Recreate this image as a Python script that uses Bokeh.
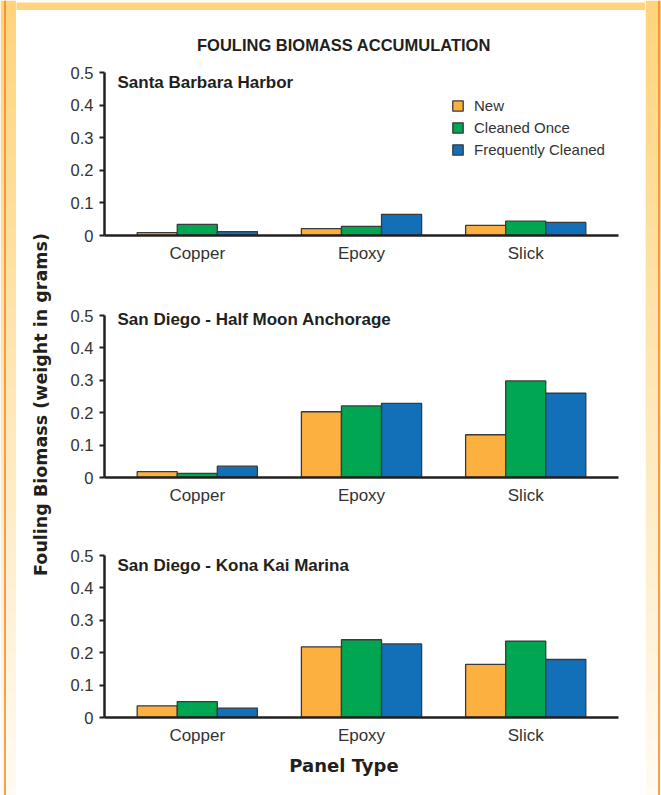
import math
import numpy as np
from bokeh.plotting import figure
from bokeh.models import (FactorRange, Range1d, FixedTicker, Label, ColumnDataSource)
from bokeh.layouts import column, row
from bokeh.transform import dodge
from bokeh.embed import file_html
from bokeh.resources import INLINE

# ---------------- data ----------------
TITLE = "FOULING BIOMASS ACCUMULATION"
Y_LABEL = "Fouling Biomass (weight in grams)"
X_LABEL = "Panel Type"
CATEGORIES = ["Copper", "Epoxy", "Slick"]
SERIES = ["New", "Cleaned Once", "Frequently Cleaned"]
SITES = ["Santa Barbara Harbor", "San Diego - Half Moon Anchorage", "San Diego - Kona Kai Marina"]
Y_TICKS = [0, 0.1, 0.2, 0.3, 0.4, 0.5]
Y_TICK_LABELS = ["0", "0.1", "0.2", "0.3", "0.4", "0.5"]

santa_barbara_new = [0.009, 0.021, 0.031]
santa_barbara_once = [0.034, 0.028, 0.044]
santa_barbara_freq = [0.012, 0.065, 0.040]

half_moon_new = [0.018, 0.203, 0.132]
half_moon_once = [0.013, 0.221, 0.298]
half_moon_freq = [0.035, 0.229, 0.260]

kona_kai_new = [0.036, 0.218, 0.164]
kona_kai_once = [0.049, 0.240, 0.236]
kona_kai_freq = [0.029, 0.227, 0.179]

# ---------------- styles ----------------
COLORS = ["#FBB040", "#00A651", "#1170B8"]
STRIP_TOP = (255, 212, 124)
STRIP_BOTTOM = (255, 251, 243)
EDGE = "#F58220"
DARK = "#231F20"
GRAY = "#333333"
SANS = "Liberation Sans"
BOLD_WIDE = "DejaVu Sans"

TOTAL_H = 795
INNER_W = 629
LAB_W = 44
PANEL_W = INNER_W - LAB_W
BAR_W = 0.244
EXT = 12  # px of frame above the 0.5 level


def bare(width, height, color="white"):
    f = figure(width=width, height=height, x_range=Range1d(0, width), y_range=Range1d(0, height),
               min_border=0, toolbar_location=None, output_backend="svg", title=None)
    f.axis.visible = False
    f.grid.visible = False
    f.outline_line_color = None
    f.background_fill_color = color
    f.border_fill_color = color
    return f


def gradient_strip(width, height, edge_x):
    f = bare(width, height)
    n = 200
    img = np.empty((n, 1), dtype=np.uint32)
    view = img.view(dtype=np.uint8).reshape((n, 1, 4))
    t = np.linspace(0.0, 1.0, n)  # row 0 = bottom
    for k in range(3):
        view[:, 0, k] = (STRIP_BOTTOM[k] + (STRIP_TOP[k] - STRIP_BOTTOM[k]) * t).astype(np.uint8)
    view[:, 0, 3] = 255
    f.image_rgba(image=[img], x=0, y=0, dw=width, dh=height)
    f.segment(x0=[edge_x], y0=[0], x1=[edge_x], y1=[height], line_color=EDGE, line_width=1.5)
    return f


def make_panel(site, vals, top_b, frame_h, bot_b, sub_y, legend=False):
    src = ColumnDataSource(dict(cat=CATEGORIES, new=vals[0], once=vals[1], freq=vals[2]))
    y_end = 0.5 + 0.5 * EXT / (frame_h - EXT)
    p = figure(x_range=FactorRange(factors=CATEGORIES, range_padding=0.065,
                                   range_padding_units="absolute"),
               y_range=Range1d(0, y_end), width=PANEL_W, height=top_b + frame_h + bot_b,
               min_border_left=44, min_border_right=27, min_border_top=top_b,
               min_border_bottom=bot_b, toolbar_location=None, output_backend="svg",
               title=None)
    p.grid.visible = False
    p.outline_line_color = None
    p.background_fill_color = "white"
    p.border_fill_color = "white"

    for i, (col, name) in enumerate(zip(["new", "once", "freq"], SERIES)):
        kw = dict(legend_label=name) if legend else {}
        p.vbar(x=dodge("cat", (i - 1) * BAR_W, range=p.x_range), top=col, bottom=0,
               width=BAR_W, source=src, fill_color=COLORS[i], line_color="#3a3a3a",
               line_width=1.3, **kw)

    # y axis
    ya = p.yaxis[0]
    ya.ticker = FixedTicker(ticks=Y_TICKS)
    ya.bounds = (0, 0.5)
    ya.major_label_overrides = dict(zip(Y_TICKS, Y_TICK_LABELS))
    ya.minor_tick_line_color = None
    ya.major_tick_in = 0
    ya.major_tick_out = 5
    ya.major_tick_line_width = 2
    ya.major_tick_line_color = DARK
    ya.axis_line_width = 2.5
    ya.axis_line_color = DARK
    ya.major_label_text_font = SANS
    ya.major_label_text_font_size = "16.5px"
    ya.major_label_text_color = GRAY
    ya.major_label_standoff = 6

    # x axis
    xa = p.xaxis[0]
    xa.major_tick_line_color = None
    xa.major_tick_out = 0
    xa.major_tick_in = 0
    xa.minor_tick_line_color = None
    xa.axis_line_width = 2.5
    xa.axis_line_color = DARK
    xa.major_label_text_font = SANS
    xa.major_label_text_font_size = "17px"
    xa.major_label_text_color = GRAY
    xa.major_label_standoff = 8

    p.add_layout(Label(x=13, y=sub_y, x_units="screen", y_units="screen",
                       text=site, text_font=SANS, text_font_style="bold",
                       text_font_size="17px", text_color=DARK, text_baseline="middle"))

    if legend:
        lg = p.legend[0]
        lg.location = (347, 77)
        lg.border_line_color = None
        lg.background_fill_alpha = 0
        lg.padding = 0
        lg.margin = 0
        lg.spacing = 5
        lg.glyph_width = 13
        lg.glyph_height = 13
        lg.label_height = 13
        lg.label_standoff = 10
        lg.label_text_font = SANS
        lg.label_text_font_size = "15px"
        lg.label_text_color = GRAY
    return p


p1 = make_panel(SITES[0], [santa_barbara_new, santa_barbara_once, santa_barbara_freq],
                4, 175, 40, 153.5, legend=True)
p2 = make_panel(SITES[1], [half_moon_new, half_moon_once, half_moon_freq],
                28, 174, 40, 157.7)
p3 = make_panel(SITES[2], [kona_kai_new, kona_kai_once, kona_kai_freq],
                26, 174, 36, 152)

panels_h = p1.height + p2.height + p3.height  # 697

TOP_H = 10
HEADER_H = 46
FOOTER_H = TOTAL_H - TOP_H - HEADER_H - panels_h

header = bare(INNER_W, HEADER_H)
header.add_layout(Label(x=327.5, y=12, text=TITLE, text_font=SANS, text_font_style="bold",
                        text_font_size="16.5px", text_color=DARK, text_align="center",
                        text_baseline="middle"))

lab = bare(LAB_W, panels_h)
lab.add_layout(Label(x=24, y=panels_h - 348, text=Y_LABEL, text_font=BOLD_WIDE,
                     text_font_style="bold", text_font_size="17.5px", text_color=DARK,
                     angle=math.pi / 2, text_align="center", text_baseline="middle"))

footer = bare(INNER_W, FOOTER_H)
footer.add_layout(Label(x=327.5, y=FOOTER_H - 12, text=X_LABEL, text_font=BOLD_WIDE,
                        text_font_style="bold", text_font_size="18px", text_color=DARK,
                        text_align="center", text_baseline="middle"))

top_strip = bare(INNER_W, TOP_H, "#FFD47C")
left_strip = gradient_strip(16, TOTAL_H, 4.5)
right_strip = gradient_strip(16, TOTAL_H, 13.5)

inner = column(top_strip, header,
               row(lab, column(p1, p2, p3, spacing=0), spacing=0),
               footer, spacing=0)
layout = row(left_strip, inner, right_strip, spacing=0)

open("out.html", "w").write(file_html(layout, INLINE))
